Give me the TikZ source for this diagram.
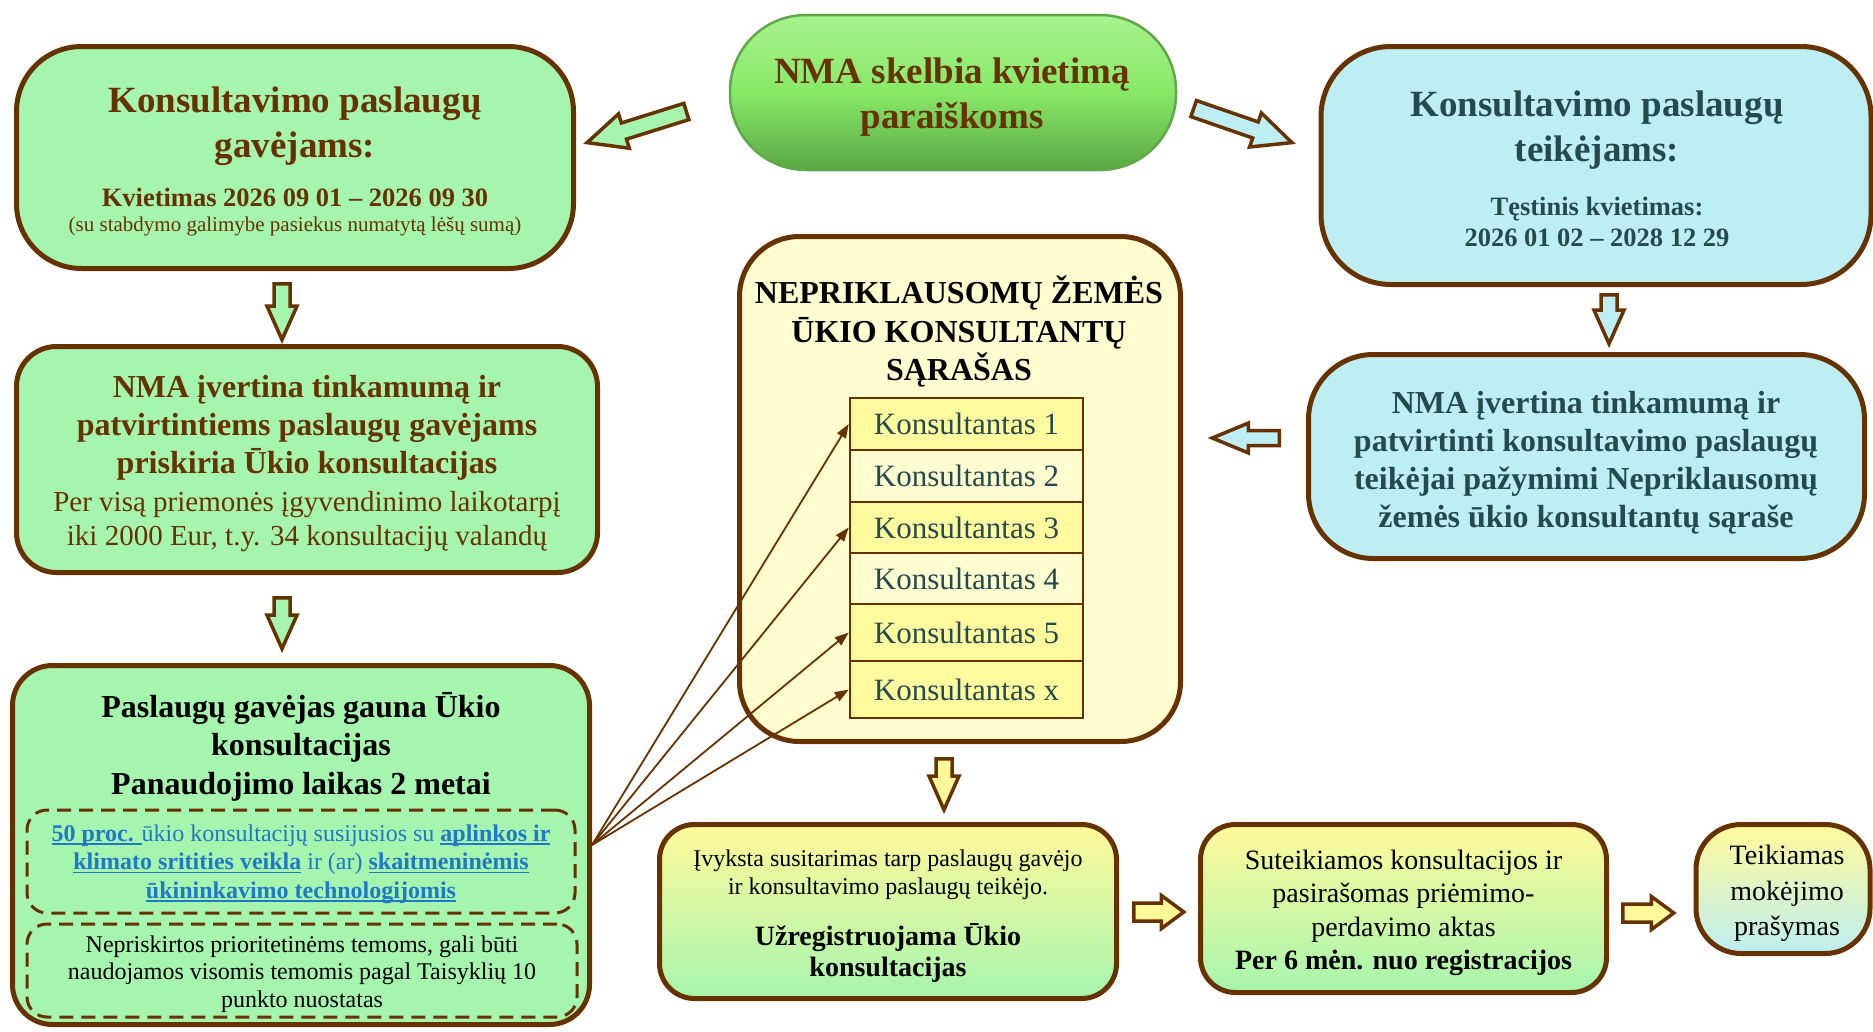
\documentclass[tikz,border=0pt]{standalone}
\usepackage{fontspec}
\setmainfont{Liberation Serif}
\newsavebox{\myulbox}
\newcommand{\ulbf}[1]{\sbox{\myulbox}{\textbf{#1}}\rlap{\rule[-3.5pt]{\wd\myulbox}{1.6pt}}\usebox{\myulbox}}
\usetikzlibrary{shapes.arrows,arrows.meta,calc}
\definecolor{brn}{HTML}{663300}
\definecolor{gfill}{HTML}{A6F5AE}
\definecolor{cfill}{HTML}{BDEEF3}
\definecolor{yfill}{HTML}{FFFCD0}
\definecolor{yrow}{HTML}{FFFA9E}
\definecolor{ytop}{HTML}{FFF99A}
\definecolor{tealtx}{HTML}{244A4F}
\definecolor{lnk}{HTML}{1F78C8}
\definecolor{pilltop}{HTML}{A8F38C}
\definecolor{pillmid}{HTML}{88E867}
\definecolor{pillbot}{HTML}{5AA843}
\definecolor{pilledge}{HTML}{5FA84A}
\begin{document}
\begin{tikzpicture}[x=1pt,y=-1pt,
  box/.style={draw=brn, line width=5pt, inner sep=0pt},
  txt/.style={align=center, inner sep=0pt, yshift=-3pt},
  dbox/.style={draw=brn, line width=3pt, dash pattern=on 14pt off 8pt, rounded corners=20pt, inner sep=0pt},
  rowbox/.style={draw=brn, line width=2.5pt, minimum width=233pt, inner sep=0pt, text=tealtx, font={\fontsize{31}{34}\selectfont}},
  barr/.style={single arrow, draw=brn, line width=3.5pt, inner sep=0pt, text height=0pt, text depth=0pt, minimum width=0pt, single arrow head indent=0pt, anchor=tail, line join=miter},
  fan/.style={draw=brn, line width=1.8pt, -{Triangle[length=14pt,width=10pt]}}
]
\useasboundingbox (0,0) rectangle (1873,1031);
\fill[white] (0,0) rectangle (1873,1031);

% top centre pill
\node[rounded corners=76pt, minimum width=446pt, minimum height=155pt, top color=pilltop, bottom color=pillbot, middle color=pillmid, draw=pilledge, line width=2.5pt, inner sep=0pt] (pill) at (953,92.5) {};
\node[txt, text=brn, font={\bfseries\fontsize{37}{45}\selectfont}] (pillt) at (952,94.5) {NMA skelbia kvietimą\\paraiškoms};

% top-left box
\node[box, fill=gfill, rounded corners=65pt, minimum width=557pt, minimum height=222pt] (tl) at (295,157.5) {};
\node[txt, text=brn, font={\bfseries\fontsize{37}{45}\selectfont}] (tlt) at (295,123) {Konsultavimo paslaugų\\gavėjams:};
\node[txt, text=brn, font={\bfseries\fontsize{26.5}{31}\selectfont}] (tlk) at (295,194) {Kvietimas 2026 09 01 – 2026 09 30};
\node[txt, text=brn, font={\fontsize{21}{24}\selectfont}] (tls) at (295,223) {(su stabdymo galimybe pasiekus numatytą lėšų sumą)};

% top-right box
\node[box, fill=cfill, rounded corners=70pt, minimum width=550pt, minimum height=238pt] (tr) at (1596,165.5) {};
\node[txt, text=tealtx, font={\bfseries\fontsize{37}{45}\selectfont}] (trt) at (1597,127.5) {Konsultavimo paslaugų\\teikėjams:};
\node[txt, text=tealtx, font={\bfseries\fontsize{26.5}{31}\selectfont}] (trs) at (1597,218.5) {Tęstinis kvietimas:\\2026 01 02 – 2028 12 29};

% left box 2
\node[box, fill=gfill, rounded corners=40pt, minimum width=581pt, minimum height=226pt] (lb2) at (307,459.5) {};
\node[txt, text=brn, font={\bfseries\fontsize{32}{38}\selectfont}] (lb2t) at (307,425) {NMA įvertina tinkamumą ir\\patvirtintiems paslaugų gavėjams\\priskiria Ūkio konsultacijas};
\node[txt, text=brn, font={\fontsize{29}{34}\selectfont}] (lb2s) at (307,519) {Per visą priemonės įgyvendinimo laikotarpį\\iki 2000 Eur, t.y. 34 konsultacijų valandų};

% left box 3
\node[box, fill=gfill, rounded corners=40pt, minimum width=577pt, minimum height=359pt] (lb3) at (301,845) {};
\node[txt, text=black, font={\bfseries\fontsize{32}{38.5}\selectfont}] (lb3t) at (301,743.5) {Paslaugų gavėjas gauna Ūkio\\konsultacijas\\Panaudojimo laikas 2 metai};
\node[dbox, minimum width=548pt, minimum height=103pt] (d1) at (301,861.5) {};
\node[txt, text=lnk, font={\fontsize{24}{28.5}\selectfont}] (d1t) at (301,861) {\ulbf{50 proc. }ūkio konsultacijų susijusios su \ulbf{aplinkos ir}\\\ulbf{klimato sritities veikla} ir (ar) \ulbf{skaitmeninėmis}\\\ulbf{ūkininkavimo technologijomis}};
\node[dbox, minimum width=550pt, minimum height=93pt] (d2) at (302,970.5) {};
\node[txt, text=black, font={\fontsize{24}{27.5}\selectfont}] (d2t) at (302,971) {Nepriskirtos prioritetinėms temoms, gali būti\\naudojamos visomis temomis pagal Taisyklių 10\\punkto nuostatas};

% centre list box
\node[box, fill=yfill, rounded corners=60pt, minimum width=441pt, minimum height=505pt] (cb) at (960,489) {};
\node[txt, text=black, font={\bfseries\fontsize{32}{38.5}\selectfont}] (cbt) at (959,328.5) {NEPRIKLAUSOMŲ ŽEMĖS\\ŪKIO KONSULTANTŲ\\SĄRAŠAS};
\node[rowbox, fill=yrow, minimum height=52pt] (r1) at (966.5,424) {Konsultantas 1};
\node[rowbox, fill=yfill, minimum height=52pt] (r2) at (966.5,476) {Konsultantas 2};
\node[rowbox, fill=yrow, minimum height=51pt] (r3) at (966.5,527.5) {Konsultantas 3};
\node[rowbox, fill=yfill, minimum height=51pt] (r4) at (966.5,578.5) {Konsultantas 4};
\node[rowbox, fill=yrow, minimum height=57pt] (r5) at (966.5,632.5) {Konsultantas 5};
\node[rowbox, fill=yrow, minimum height=57pt] (r6) at (966.5,689.5) {Konsultantas x};

% right box 2
\node[box, fill=cfill, rounded corners=65pt, minimum width=556pt, minimum height=204pt] (rb2) at (1586.5,456.5) {};
\node[txt, text=tealtx, font={\bfseries\fontsize{32}{38}\selectfont}] (rb2t) at (1586,460) {NMA įvertina tinkamumą ir\\patvirtinti konsultavimo paslaugų\\teikėjai pažymimi Nepriklausomų\\žemės ūkio konsultantų sąraše};

% bottom row
\node[box, top color=ytop, bottom color=gfill, rounded corners=35pt, minimum width=457pt, minimum height=174pt] (bb1) at (888,911.5) {};
\node[txt, text=black, font={\fontsize{24}{28}\selectfont}] (bb1s) at (888,872) {Įvyksta susitarimas tarp paslaugų gavėjo\\ir konsultavimo paslaugų teikėjo.};
\node[txt, text=black, font={\bfseries\fontsize{28}{31}\selectfont}] (bb1t) at (888,949.5) {Užregistruojama Ūkio\\konsultacijas};

\node[box, top color=ytop, bottom color=gfill, rounded corners=35pt, minimum width=406pt, minimum height=168pt] (bb2) at (1403.5,908.5) {};
\node[txt, text=black, font={\fontsize{28}{33.5}\selectfont}] (bb2t) at (1403.5,910) {Suteikiamos konsultacijos ir\\pasirašomas priėmimo-\\perdavimo aktas\\\textbf{Per 6 mėn. nuo registracijos}};

\node[box, top color=ytop, bottom color=cfill, rounded corners=45pt, minimum width=174pt, minimum height=129pt] (bb3) at (1783,889) {};
\node[txt, text=black, font={\fontsize{28}{35.5}\selectfont}] (bb3t) at (1787,890.5) {Teikiamas\\mokėjimo\\prašymas};

% block arrows
\node[barr, fill=gfill, rotate=197.4, inner ysep=6.75pt, single arrow head extend=9.5pt, single arrow tip angle=50, minimum height=104pt] (a1) at (688,111) {};
\node[barr, fill=cfill, rotate=-19.1, inner ysep=6.75pt, single arrow head extend=9.5pt, single arrow tip angle=50, minimum height=104pt] (a2) at (1192,108) {};
\node[barr, fill=gfill, rotate=-90, inner ysep=6.25pt, single arrow head extend=7pt, single arrow tip angle=48, minimum height=56pt] (a3) at (282,282) {};
\node[barr, fill=gfill, rotate=-90, inner ysep=6.25pt, single arrow head extend=7pt, single arrow tip angle=48, minimum height=51pt] (a4) at (282,596) {};
\node[barr, fill=cfill, rotate=-90, inner ysep=6.25pt, single arrow head extend=7pt, single arrow tip angle=48, minimum height=49pt] (a5) at (1609,293) {};
\node[barr, fill=cfill, rotate=180, inner ysep=5.75pt, single arrow head extend=7.5pt, single arrow tip angle=45, minimum height=67pt] (a6) at (1281,438) {};
\node[barr, fill=ytop, rotate=-90, inner ysep=6.25pt, single arrow head extend=7pt, single arrow tip angle=48, minimum height=51pt] (a7) at (944,757) {};
\node[barr, fill=ytop, rotate=0, inner ysep=7.25pt, single arrow head extend=7.5pt, single arrow tip angle=73, minimum height=50pt] (a8) at (1132,912) {};
\node[barr, fill=ytop, rotate=0, inner ysep=7.25pt, single arrow head extend=7.5pt, single arrow tip angle=73, minimum height=51pt] (a9) at (1621,913) {};

% thin connectors
\draw[fan] (lb3.east) -- (r1.west);
\draw[fan] (lb3.east) -- (r3.west);
\draw[fan] (lb3.east) -- (r5.west);
\draw[fan] (lb3.east) -- (r6.west);
\end{tikzpicture}
\end{document}
